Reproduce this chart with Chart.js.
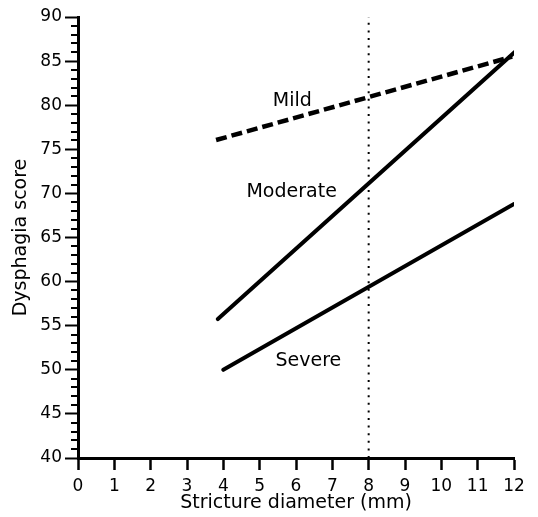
<!DOCTYPE html>
<html>
<head>
<meta charset="utf-8">
<script src="https://cdn.jsdelivr.net/npm/chart.js@4/dist/chart.umd.min.js"></script>
<style>
  html, body { margin: 0; padding: 0; background: #fff; }
  #wrap { width: 538px; height: 517px; }
</style>
</head>
<body>
<div id="wrap"><canvas id="myChart" width="538" height="517"></canvas></div>
<script>
// values
var mildX = [3.8, 11.95];
var mildY = [76.05, 85.5];
var moderateX = [3.85, 12.15];
var moderateY = [55.75, 86.5];
var severeX = [4.0, 12.0];
var severeY = [50.0, 68.8];
var cutoffX = [8, 8];
var cutoffY = [40, 90];

var seriesNames = ['Mild', 'Moderate', 'Severe'];
var nameAt = [[5.9, 80.5], [5.88, 70.2], [6.34, 51.0]];

function toPoints(xs, ys) {
  var pts = [];
  for (var i = 0; i < xs.length; i++) {
    pts.push({x: xs[i], y: ys[i]});
  }
  return pts;
}

var font = "'DejaVu Sans', sans-serif";

// short ticks for every unit on the y axis, names next to the lines
var extras = {
  id: 'extras',
  afterDraw: function(chart) {
    var ctx = chart.ctx;
    var y = chart.scales.y;
    var x = chart.scales.x;
    ctx.save();
    ctx.strokeStyle = '#000';
    ctx.lineWidth = 2;
    for (var v = 40; v <= 90; v++) {
      if (v % 5 === 0) continue;
      var py = Math.round(y.getPixelForValue(v));
      ctx.beginPath();
      ctx.moveTo(y.right - 7, py);
      ctx.lineTo(y.right, py);
      ctx.stroke();
    }
    ctx.fillStyle = '#000';
    ctx.font = '19px ' + font;
    ctx.textAlign = 'center';
    ctx.textBaseline = 'middle';
    for (var i = 0; i < seriesNames.length; i++) {
      ctx.fillText(seriesNames[i], x.getPixelForValue(nameAt[i][0]), y.getPixelForValue(nameAt[i][1]));
    }
    ctx.restore();
  }
};

var ctx = document.getElementById('myChart').getContext('2d');
var myChart = new Chart(ctx, {
  type: 'scatter',
  data: {
    datasets: [{
      label: 'Mild',
      data: toPoints(mildX, mildY),
      showLine: true,
      borderColor: '#000',
      borderWidth: 4.5,
      borderDash: [11, 5],
      pointRadius: 0
    }, {
      label: 'Moderate',
      data: toPoints(moderateX, moderateY),
      showLine: true,
      borderColor: '#000',
      borderWidth: 4,
      borderCapStyle: 'round',
      pointRadius: 0
    }, {
      label: 'Severe',
      data: toPoints(severeX, severeY),
      showLine: true,
      borderColor: '#000',
      borderWidth: 4,
      borderCapStyle: 'round',
      pointRadius: 0
    }, {
      label: 'cutoff',
      data: toPoints(cutoffX, cutoffY),
      showLine: true,
      borderColor: '#000',
      borderWidth: 2,
      borderDash: [2, 5.6],
      pointRadius: 0
    }]
  },
  options: {
    responsive: false,
    animation: false,
    layout: { padding: { top: 17, right: 24, left: 0, bottom: 0 } },
    plugins: { legend: { display: false }, tooltip: { enabled: false } },
    scales: {
      x: {
        type: 'linear',
        min: 0,
        max: 12,
        afterFit: function(s) { s.height = 59; },
        ticks: { stepSize: 1, color: '#000', padding: 6, font: { family: font, size: 17 } },
        grid: { drawOnChartArea: false, tickLength: 12, tickWidth: 2.5, tickColor: '#000' },
        border: { color: '#000', width: 3 },
        title: { display: true, text: 'Stricture diameter (mm)', color: '#000', padding: { top: 0, bottom: 3 }, font: { family: font, size: 19 } }
      },
      y: {
        min: 40,
        max: 90,
        afterFit: function(s) { s.width = 78; },
        ticks: { stepSize: 5, color: '#000', padding: 3, font: { family: font, size: 17 } },
        grid: { drawOnChartArea: false, tickLength: 13, tickWidth: 2, tickColor: '#000' },
        border: { color: '#000', width: 3 },
        title: { display: true, text: 'Dysphagia score', color: '#000', padding: { top: 10, bottom: 0 }, font: { family: font, size: 19 } }
      }
    }
  },
  plugins: [extras]
});
</script>
</body>
</html>
